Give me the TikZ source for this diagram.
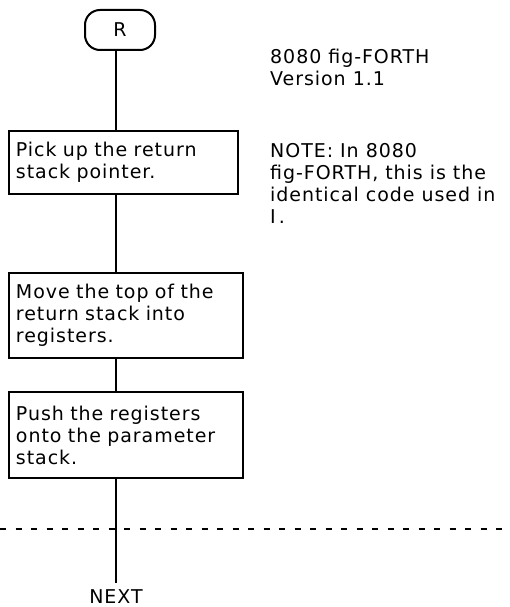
\documentclass[tikz,border=0pt]{standalone}
\usepackage{fontspec}
\setmainfont{DejaVu Sans}[LetterSpace=5]
\begin{document}
\begin{tikzpicture}[x=1pt,y=-1pt,
  every node/.style={font=\fontsize{19}{22}\selectfont},
  flow/.style={line width=2pt},
  procbox/.style={draw,line width=2pt,anchor=north west,align=left,inner ysep=2pt,inner xsep=6pt},
  note/.style={anchor=north west,align=left,inner sep=0pt}]
\useasboundingbox (0,0) rectangle (510,607);
\node[draw,line width=2pt,rounded corners=15pt,minimum width=70pt,minimum height=40pt,inner sep=0pt] (r) at (120,30) {R};
\node[procbox,minimum width=229pt,minimum height=63pt,text width=215pt] (b1) at (8,130) {Pick up the return\\stack pointer.};
\node[procbox,minimum width=234pt,minimum height=85pt,text width=220pt] (b2) at (8,272) {Move the top of the\\return stack into\\registers.};
\node[procbox,minimum width=234pt,minimum height=86pt,text width=220pt] (b3) at (8,391) {Push the registers\\onto the parameter\\stack.};
\node[inner xsep=2pt,inner ysep=6pt,anchor=north] (next) at (116,583) {NEXT};
\node[note] (t1) at (270,49) {8080 fig-FORTH\\Version 1.1};
\node[note] (t2) at (270,143) {NOTE: In 8080\\fig-FORTH, this is the\\identical code used in\\I\,.};
\coordinate (dl) at (0,529);
\coordinate (dr) at (510,529);
\draw[flow] (r.south -| 116,0) -- (116,130);
\draw[flow] (116,193) -- (116,272);
\draw[flow] (116,357) -- (116,391);
\draw[flow] (116,477) -- (next.north);
\draw[line width=1.4pt,dash pattern=on 6pt off 9.5pt] (dl) -- (dr);
\end{tikzpicture}
\end{document}
